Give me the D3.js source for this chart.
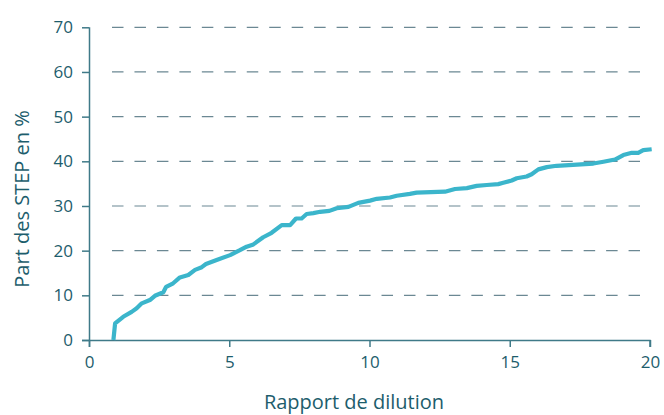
<!DOCTYPE html>
<html>
<head>
<meta charset="utf-8">
<script src="https://cdn.jsdelivr.net/npm/d3@7"></script>
<style>
  html, body { margin: 0; padding: 0; background: #fff; }
  svg { display: block; font-family: "Open Sans", "Noto Sans", sans-serif; }
</style>
</head>
<body>
<svg id="chart" width="664" height="415"></svg>
<script>
// Rapport de dilution (x) vs part cumulée des STEP en % (y)
const dilution = [0.87, 0.93, 1.22, 1.52, 1.70, 1.88, 2.17, 2.35, 2.65, 2.75, 3.00, 3.24, 3.54, 3.78,
  4.02, 4.17, 4.55, 5.03, 5.38, 5.62, 5.86, 6.21, 6.51, 6.87, 7.17, 7.38, 7.58, 7.76, 8.00, 8.24,
  8.57, 8.83, 9.25, 9.60, 10.02, 10.26, 10.73, 10.97, 11.44, 11.68, 12.69, 13.05, 13.47, 13.82,
  14.18, 14.59, 14.77, 15.07, 15.25, 15.60, 15.78, 16.02, 16.32, 16.67, 17.98, 18.34, 18.75,
  19.05, 19.35, 19.58, 19.76, 20.06];
const partStep = [0, 3.7, 5.2, 6.3, 7.1, 8.2, 8.95, 9.9, 10.7, 11.9, 12.7, 14.0, 14.55, 15.7,
  16.3, 17.0, 17.9, 19.0, 20.1, 20.9, 21.4, 23.0, 24.0, 25.7, 25.7, 27.2, 27.2, 28.2, 28.4, 28.7,
  28.9, 29.5, 29.8, 30.7, 31.2, 31.6, 31.9, 32.3, 32.7, 33.0, 33.2, 33.8, 34.0, 34.5,
  34.7, 34.9, 35.2, 35.7, 36.2, 36.6, 37.1, 38.2, 38.7, 39.0, 39.5, 39.9, 40.4,
  41.4, 41.9, 41.9, 42.5, 42.7];
const xTicks = [0, 5, 10, 15, 20];
const yTicks = [0, 10, 20, 30, 40, 50, 60, 70];

const points = dilution.map((d, i) => ({ x: d, y: partStep[i] }));

const svg = d3.select('#chart');
const textColor = '#1d5d6c';
const axisColor = '#3f7a88';
const gridColor = '#6b8893';

const x = d3.scaleLinear().domain([0, 20]).range([89, 650]);
const y = d3.scaleLinear().domain([0, 70]).range([340, 27.3]);

// Gridlines (dashed)
svg.append('g')
  .selectAll('line')
  .data(yTicks.filter(d => d > 0))
  .join('line')
  .attr('x1', 112)
  .attr('x2', 640)
  .attr('y1', d => y(d))
  .attr('y2', d => y(d))
  .attr('stroke', gridColor)
  .attr('stroke-width', 1.2)
  .attr('stroke-dasharray', '11.5 10.96');

// Y axis
const yAxis = svg.append('g')
  .attr('transform', `translate(${x(0)},0)`)
  .call(d3.axisLeft(y).tickValues(yTicks).tickSize(7).tickPadding(9));

// X axis
const xAxis = svg.append('g')
  .attr('transform', `translate(0,${y(0)})`)
  .call(d3.axisBottom(x).tickValues(xTicks).tickSize(7).tickPadding(9));

[yAxis, xAxis].forEach(g => {
  g.select('.domain').attr('stroke', axisColor).attr('stroke-width', 1.5);
  g.selectAll('.tick line').attr('stroke', axisColor).attr('stroke-width', 1.5);
  g.selectAll('.tick text')
    .attr('fill', textColor)
    .style('font-size', '17px')
    .style('font-family', '"Open Sans", "Noto Sans", sans-serif');
});
// left end of the x axis reaches the y tick
xAxis.select('.domain').attr('d', `M82,0.5H${x(20)}V7`);
yAxis.select('.domain').attr('d', `M0.5,${y(70)}V${y(0) + 7}`);

// Line
const line = d3.line()
  .x(d => x(d.x))
  .y(d => y(d.y));

svg.append('path')
  .datum(points)
  .attr('d', line)
  .attr('fill', 'none')
  .attr('stroke', '#3bb5cb')
  .attr('stroke-width', 4.2)
  .attr('stroke-linejoin', 'round');

// Axis titles
svg.append('text')
  .attr('x', 354)
  .attr('y', 409)
  .attr('text-anchor', 'middle')
  .attr('fill', textColor)
  .style('font-size', '20px')
  .text('Rapport de dilution');

svg.append('text')
  .attr('transform', 'translate(29,199) rotate(-90)')
  .attr('text-anchor', 'middle')
  .attr('fill', textColor)
  .style('font-size', '20px')
  .text('Part des STEP en %');
</script>
</body>
</html>
